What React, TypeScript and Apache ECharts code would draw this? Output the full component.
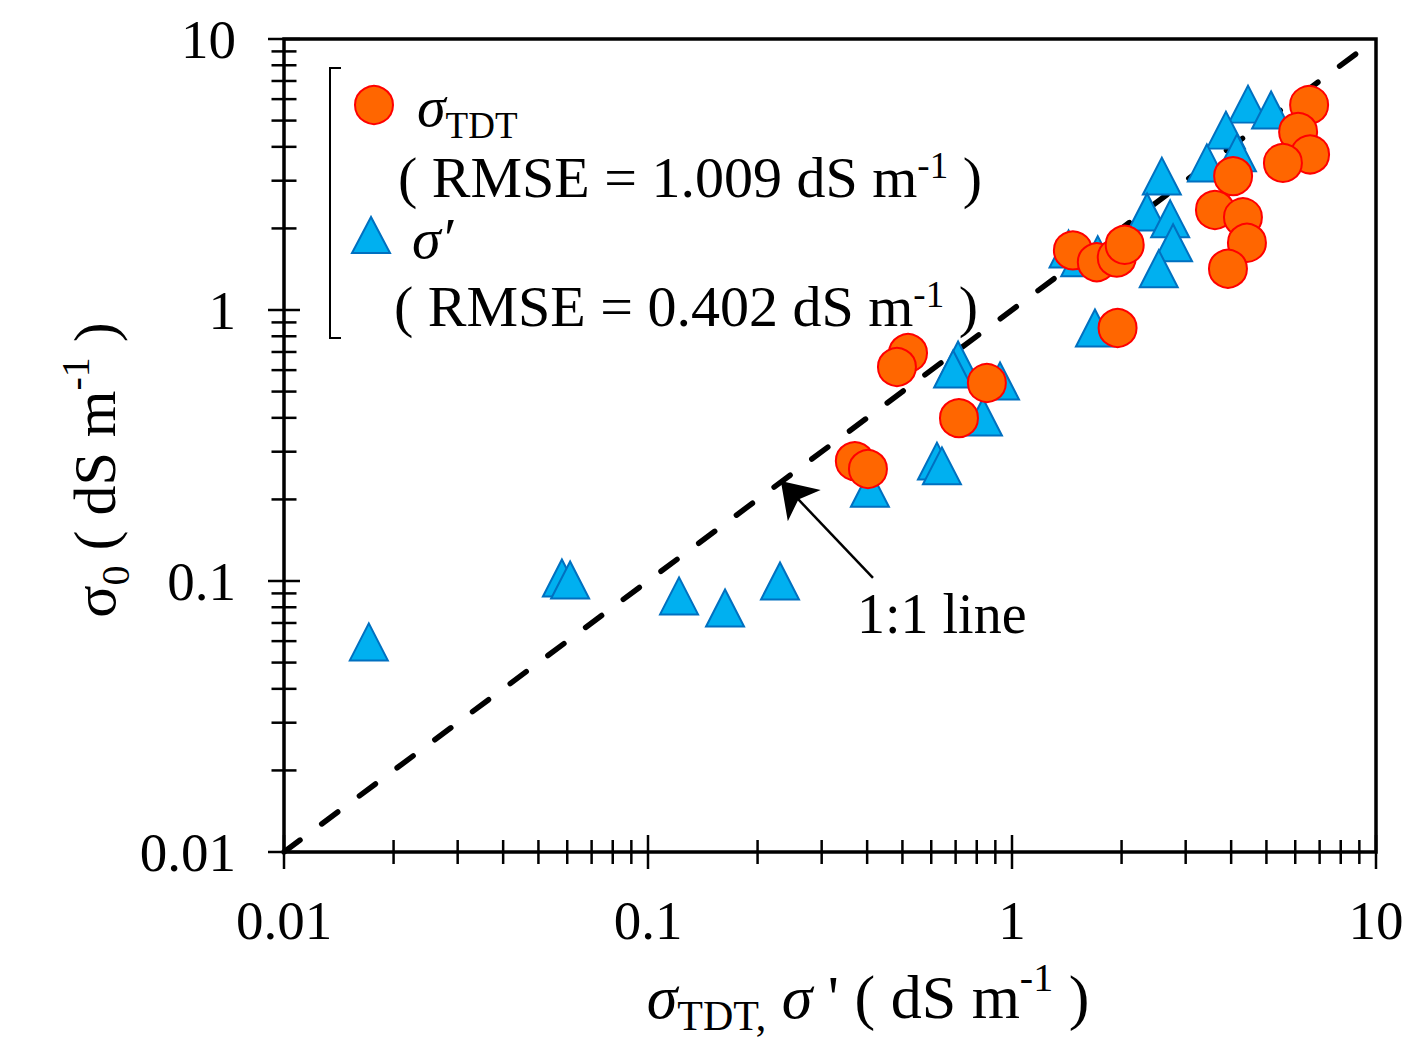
import React, { useEffect, useRef } from 'react';
import * as echarts from 'echarts';

const FONT = "'Liberation Serif', 'Times New Roman', Times, serif";

// axis ranges & ticks
const X_MIN = 0.01;
const X_MAX = 10;
const Y_MIN = 0.01;
const Y_MAX = 10;
const tickLabels = ['0.01', '0.1', '1', '10'];
const majorTicks = [0.01, 0.1, 1, 10];
const minorTicks = [
  0.02, 0.03, 0.04, 0.05, 0.06, 0.07, 0.08, 0.09,
  0.2, 0.3, 0.4, 0.5, 0.6, 0.7, 0.8, 0.9,
  2, 3, 4, 5, 6, 7, 8, 9,
];

// σTDT (x) vs σ0 (y)
const sigmaTDT = [6.55, 6.11, 6.59, 5.55, 4.05, 3.61, 4.31, 4.42, 3.92, 1.47, 1.71, 1.94, 2.04, 1.95, 0.518, 0.483, 0.853, 0.715, 0.37, 0.402];
const sigma0TDT = [5.71, 4.54, 3.75, 3.49, 3.12, 2.34, 2.2, 1.77, 1.42, 1.66, 1.5, 1.56, 1.74, 0.858, 0.694, 0.616, 0.538, 0.399, 0.277, 0.259];

// σ' (x) vs σ0 (y)
const sigmaPrime = [4.45, 5.15, 3.87, 3.43, 4.15, 2.58, 2.35, 2.72, 2.77, 2.53, 1.43, 1.72, 1.54, 1.69, 0.711, 0.689, 0.927, 0.832, 0.622, 0.642, 0.407, 0.0171, 0.058, 0.0611, 0.1217, 0.1628, 0.2305];
const sigma0Prime = [5.75, 5.47, 4.61, 3.49, 3.8, 3.12, 2.3, 2.17, 1.77, 1.42, 1.68, 1.6, 1.56, 0.858, 0.654, 0.606, 0.547, 0.403, 0.277, 0.266, 0.22, 0.0596, 0.1026, 0.1008, 0.0881, 0.0795, 0.1];

// 1:1 line and its annotation arrow
const oneToOne = [0.01, 10];
const arrowFrom = [0.415, 0.1026];
const arrowTo = [0.2317, 0.234];

const rich = (main: number, L: number, sub: number, hSub: number, sup: number, hSup: number, italicS: boolean) => ({
  s: { fontFamily: FONT, fontSize: main, lineHeight: L, fontStyle: italicS ? 'italic' : 'normal', fill: '#000', color: '#000' },
  n: { fontFamily: FONT, fontSize: main, lineHeight: L, fill: '#000', color: '#000' },
  sub: { fontFamily: FONT, fontSize: sub, lineHeight: hSub, verticalAlign: 'bottom', fill: '#000', color: '#000' },
  sup: { fontFamily: FONT, fontSize: sup, lineHeight: hSup, verticalAlign: 'top', fill: '#000', color: '#000' },
});

const textEl = (x: number, y: number, text: string, r: any, align = 'left', rotation = 0) => ({
  type: 'text',
  x,
  y,
  rotation,
  silent: true,
  z: 50,
  style: {
    text,
    rich: r,
    fontFamily: FONT,
    fontSize: 56,
    fill: '#000',
    align,
    textAlign: align,
    verticalAlign: 'middle',
    textVerticalAlign: 'middle',
  },
});

export default function App() {
  const ref = useRef<HTMLDivElement>(null);

  useEffect(() => {
    if (!ref.current) return;
    const chart = echarts.init(ref.current, undefined, { renderer: 'svg' });

    const xTickData = [
      ...majorTicks.map((v) => [v, Y_MIN, 17]),
      ...minorTicks.map((v) => [v, Y_MIN, 12]),
    ];
    const yTickData = [
      ...majorTicks.map((v) => [X_MIN, v, 16]),
      ...minorTicks.map((v) => [X_MIN, v, 12.5]),
    ];

    const legendRich = rich(58, 60, 38, 26, 37, 48, true);
    const legendSubRich = rich(58, 76, 37, 36, 37, 48, true);
    const xTitleRich = rich(62, 80, 42, 50, 40, 44, true);
    const yTitleRich = rich(60, 80, 40, 46, 40, 50, false);

    const option: any = {
      animation: false,
      backgroundColor: '#fff',
      grid: {
        left: 284,
        right: 41,
        top: 39,
        bottom: 187,
        show: true,
        borderColor: '#000',
        borderWidth: 3.5,
        backgroundColor: 'transparent',
      },
      xAxis: {
        type: 'log',
        logBase: 10,
        min: X_MIN,
        max: X_MAX,
        axisLine: { show: false },
        axisTick: { show: false },
        splitLine: { show: false },
        minorTick: { show: false },
        axisLabel: {
          margin: 41,
          fontFamily: FONT,
          fontSize: 55,
          color: '#000',
          formatter: (v: number) => tickLabels[Math.round(Math.log10(v)) + 2] ?? '',
        },
      },
      yAxis: {
        type: 'log',
        logBase: 10,
        min: Y_MIN,
        max: Y_MAX,
        axisLine: { show: false },
        axisTick: { show: false },
        splitLine: { show: false },
        minorTick: { show: false },
        axisLabel: {
          margin: 48,
          fontFamily: FONT,
          fontSize: 55,
          color: '#000',
          formatter: (v: number) => tickLabels[Math.round(Math.log10(v)) + 2] ?? '',
        },
      },
      series: [
        {
          type: 'line',
          data: [
            [oneToOne[0], oneToOne[0]],
            [oneToOne[1], oneToOne[1]],
          ],
          symbol: 'none',
          silent: true,
          z: 1,
          lineStyle: { color: '#000', width: 5.5, type: [20, 27], cap: 'round' },
          markLine: {
            silent: true,
            symbol: ['none', 'arrow'],
            symbolSize: 34,
            label: { show: false },
            lineStyle: { color: '#000', width: 2.5, type: 'solid' },
            data: [[{ coord: arrowFrom }, { coord: arrowTo }]],
          },
        },
        {
          name: "σ'",
          type: 'scatter',
          symbol: 'triangle',
          symbolSize: [38, 37],
          z: 3,
          itemStyle: { color: '#00B0F0', borderColor: '#0070C0', borderWidth: 2, opacity: 1 },
          data: sigmaPrime.map((x, i) => [x, sigma0Prime[i]]),
        },
        {
          name: 'σTDT',
          type: 'scatter',
          symbol: 'circle',
          symbolSize: 38,
          z: 4,
          itemStyle: { color: '#FF6600', borderColor: '#FF0000', borderWidth: 2, opacity: 1 },
          data: sigmaTDT.map((x, i) => [x, sigma0TDT[i]]),
        },
        {
          type: 'custom',
          silent: true,
          z: 10,
          clip: false,
          data: xTickData,
          renderItem: (_p: any, api: any) => {
            const pt = api.coord([api.value(0), api.value(1)]);
            const len = api.value(2);
            return {
              type: 'line',
              shape: { x1: pt[0], y1: pt[1] - len, x2: pt[0], y2: pt[1] + len },
              style: { stroke: '#000', lineWidth: 2.5 },
            };
          },
        },
        {
          type: 'custom',
          silent: true,
          z: 10,
          clip: false,
          data: yTickData,
          renderItem: (_p: any, api: any) => {
            const pt = api.coord([api.value(0), api.value(1)]);
            const len = api.value(2);
            return {
              type: 'line',
              shape: { x1: pt[0] - len, y1: pt[1], x2: pt[0] + len, y2: pt[1] },
              style: { stroke: '#000', lineWidth: 2.5 },
            };
          },
        },
      ],
      graphic: [
        {
          type: 'polyline',
          silent: true,
          z: 50,
          shape: { points: [[341, 68], [330, 68], [330, 338], [341, 338]] },
          style: { stroke: '#000', lineWidth: 2, fill: null },
        },
        {
          type: 'circle',
          silent: true,
          z: 50,
          shape: { cx: 374, cy: 105, r: 19 },
          style: { fill: '#FF6600', stroke: '#FF0000', lineWidth: 2 },
        },
        {
          type: 'polygon',
          silent: true,
          z: 50,
          shape: { points: [[371, 217], [352, 253], [390, 253]] },
          style: { fill: '#00B0F0', stroke: '#0070C0', lineWidth: 2 },
        },
        textEl(417, 106, '{s|σ}{sub|TDT}', legendSubRich),
        textEl(398, 177, '{n|( RMSE = 1.009 dS m}{sup|-1}{n| )}', legendRich),
        textEl(412, 238, '{s|σ′}', legendRich),
        textEl(394, 306, '{n|( RMSE = 0.402 dS m}{sup|-1}{n| )}', legendRich),
        textEl(857, 614, '{n|1:1 line}', rich(56, 70, 40, 40, 36, 40, false)),
        textEl(868, 997, "{s|σ}{sub|TDT,}{n| }{s|σ}{n| ' ( dS m}{sup|-1}{n| )}", xTitleRich, 'center'),
        textEl(95, 470, '{s|σ}{sub|0}{n| ( dS m}{sup|-1}{n| )}', yTitleRich, 'center', Math.PI / 2),
      ],
    };

    chart.setOption(option);
    return () => chart.dispose();
  }, []);

  return (
    <div
      ref={ref}
      style={{ position: 'absolute', left: 0, top: 0, width: 1417, height: 1039, background: '#fff' }}
    />
  );
}
